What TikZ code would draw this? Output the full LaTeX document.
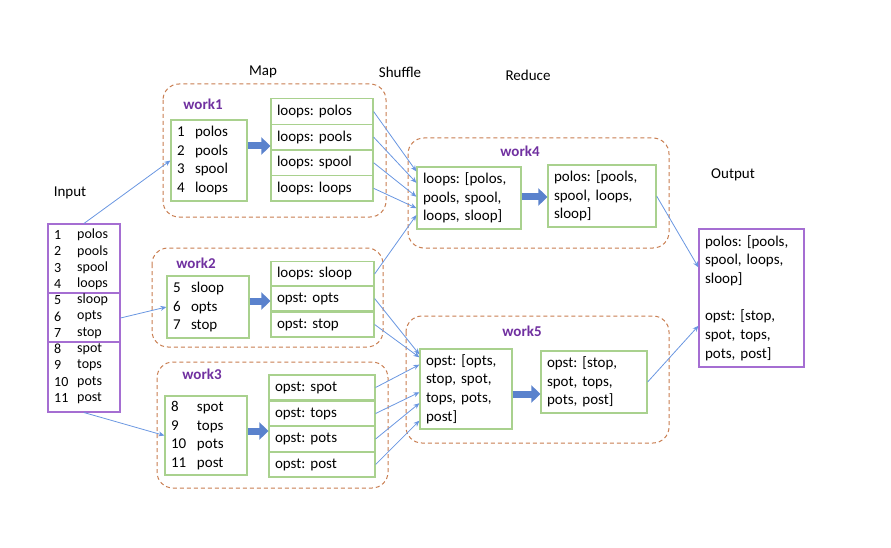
\documentclass[tikz,border=0pt]{standalone}
\usepackage{fontspec}
\setmainfont{Carlito}
\usetikzlibrary{arrows.meta, calc}
\frenchspacing

\definecolor{boxgreen}{RGB}{169,209,142}
\definecolor{listpurple}{RGB}{165,110,210}
\definecolor{workpurple}{RGB}{112,48,160}
\definecolor{dashorange}{RGB}{200,125,80}
\definecolor{linkblue}{RGB}{105,150,225}
\definecolor{fatblue}{RGB}{90,130,205}

\newcommand\diagfont{\fontsize{15}{18.7}\selectfont}
\newcommand\listfont{\fontsize{14}{16}\selectfont}
\newcommand\kv[3][18pt]{\makebox[#1][l]{#2}#3}

\tikzset{
  gbox/.style={draw=boxgreen, line width=1.2pt, fill=white, align=left, inner xsep=6pt, inner ysep=0pt},
  pbox/.style={draw=listpurple, line width=1.1pt, fill=white, inner sep=0pt},
  wbox/.style={draw=dashorange, line width=1pt, dash pattern=on 4pt off 3pt, rounded corners=16pt},
  wlabel/.style={text=workpurple, font=\diagfont\bfseries},
  link/.style={draw=linkblue, line width=0.8pt, -{Stealth[length=6pt,width=5pt]}},
  fat/.style={draw=fatblue, line width=7pt, -{Triangle[length=9pt,width=17pt]}},
}

\begin{document}
\begin{tikzpicture}[x=1pt, y=-1pt, font=\diagfont]
\useasboundingbox (0,0) rectangle (891,548);

% stage titles
\node (map) at (263,72) {Map};
\node (shuffle) at (400,72) {Shuffle};
\node (reduce) at (528,75) {Reduce};
\node (input) at (70,193) {Input};
\node (output) at (733,175) {Output};

% workers
\draw[wbox] (163,84) rectangle (386,217);
\draw[wbox] (152,248) rectangle (383,347);
\draw[wbox] (157,362) rectangle (388,488);
\draw[wbox] (408,138) rectangle (669,248);
\draw[wbox] (406,316) rectangle (669,443);
\node[wlabel] (lab1) at (203,104) {work1};
\node[wlabel] (lab2) at (196,263) {work2};
\node[wlabel] (lab3) at (202,374) {work3};
\node[wlabel] (lab4) at (520,151) {work4};
\node[wlabel] (lab5) at (522,331) {work5};

% input list
\node[pbox, minimum width=72pt, minimum height=188pt] (inbox) at (84,318) {};
\draw[listpurple, line width=1.1pt] (inbox.west |- 0,293) -- (inbox.east |- 0,293);
\draw[listpurple, line width=1.1pt] (inbox.west |- 0,342) -- (inbox.east |- 0,342);
\foreach \n/\w [count=\i from 0] in {1/polos, 2/pools, 3/spool, 4/loops, 5/sloop, 6/opts, 7/stop, 8/spot, 9/tops, 10/pots, 11/post} {
  \node[anchor=west, inner sep=0pt, font=\listfont] (num\n) at (54, {235+16.3*\i}) {\n};
  \node[anchor=west, inner sep=0pt, font=\listfont] (word\n) at (77, {235+16.3*\i}) {\w};
}

% map
\node[gbox, minimum height=81pt, text width=64pt] (w1in) at (209,160.5)
  {\kv{1}{polos}\\\kv{2}{pools}\\\kv{3}{spool}\\\kv{4}{loops}};
\foreach \w [count=\i] in {polos, pools, spool, loops}
  \node[gbox, minimum height=25.5pt, text width=90pt] (w1o\i) at (322, {85.9+25.6*\i}) {loops: \w};

\node[gbox, minimum height=62pt, text width=70pt] (w2in) at (208,307)
  {\kv{5}{sloop}\\\kv{6}{opts}\\\kv{7}{stop}};
\node[gbox, minimum height=25pt, text width=91pt] (w2o1) at (322.5,274) {loops: sloop};
\node[gbox, minimum height=25pt, text width=91pt] (w2o2) at (322.5,298.5) {opst: opts};
\node[gbox, minimum height=25pt, text width=91pt] (w2o3) at (322.5,324.5) {opst: stop};

\node[gbox, minimum height=79pt, text width=70pt] (w3in) at (206,435.5)
  {\kv[26pt]{8}{spot}\\\kv[26pt]{9}{tops}\\\kv[26pt]{10}{pots}\\\kv[26pt]{11}{post}};
\foreach \w/\y [count=\i] in {spot/387.5, tops/413.5, pots/439, post/464.5}
  \node[gbox, minimum height=25pt, text width=94pt] (w3o\i) at (322,\y) {opst: \w};

% reduce
\node[gbox, minimum height=62pt, text width=92pt] (w4in) at (469,198)
  {loops: [polos,\\pools, spool,\\loops, sloop]};
\node[gbox, minimum height=62pt, text width=96pt] (w4out) at (602,196)
  {polos: [pools,\\spool, loops,\\sloop]};
\node[gbox, minimum height=80pt, text width=80pt] (w5in) at (466,389)
  {opst: [opts,\\stop, spot,\\tops, pots,\\post]};
\node[gbox, minimum height=62pt, text width=94pt] (w5out) at (594,382)
  {opst: [stop,\\spot, tops,\\pots, post]};

% output
\node[pbox, minimum width=105pt, minimum height=138pt, text width=93pt, align=left, inner xsep=6pt] (outbox) at (751.5,298)
  {polos: [pools,\\spool, loops,\\sloop]\\[18.7pt]opst: [stop,\\spot, tops,\\pots, post]};

% inside the workers
\draw[fat] (w1in.east |- 0,146) -- (w1o2.west |- 0,146);
\draw[fat] (w2in.east |- 0,301) -- (w2o2.west |- 0,301);
\draw[fat] (w3in.east |- 0,431) -- (w3o3.west |- 0,431);
\draw[fat] (w4in.east |- 0,197) -- (w4out.west |- 0,197);
\draw[fat] (w5in.east |- 0,394) -- (w5out.west |- 0,394);

% split
\draw[link] (inbox.north) -- (w1in.west);
\draw[link] (inbox.east) -- (w2in.west);
\draw[link] (inbox.south) -- (w3in.west);

% shuffle
\foreach \src/\f in {w1o1/.08, w1o2/.26, w1o3/.48, w1o4/.66, w2o1/.77}
  \draw[link] (\src.east) -- ($(w4in.north west)!\f!(w4in.south west)$);
\foreach \src/\f in {w2o2/.075, w2o3/.11, w3o1/.2, w3o2/.54, w3o3/.675, w3o4/.89}
  \draw[link] (\src.east) -- ($(w5in.north west)!\f!(w5in.south west)$);

% collect
\draw[link] (w4out.east) -- ($(outbox.north west)!.28!(outbox.south west)$);
\draw[link] (w5out.east) -- ($(outbox.north west)!.70!(outbox.south west)$);
\end{tikzpicture}
\end{document}
